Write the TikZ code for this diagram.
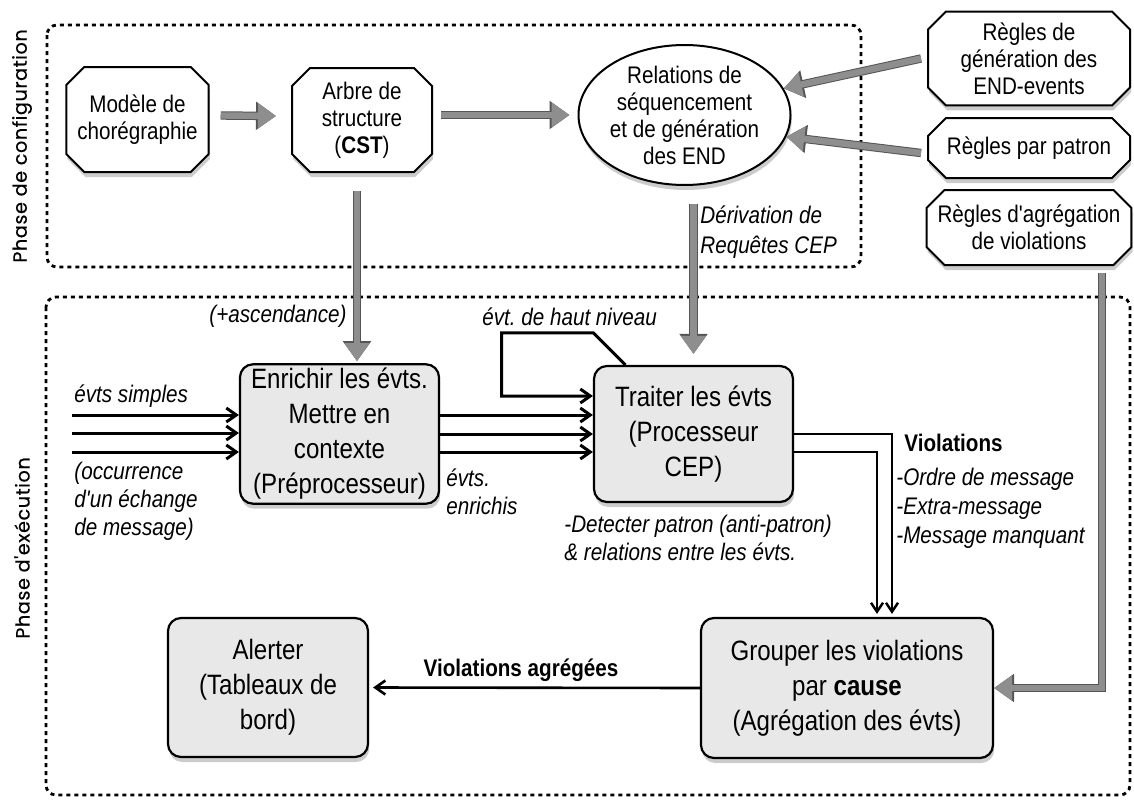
\documentclass[tikz,border=0pt]{standalone}
\usepackage{fontspec}
\setmainfont{Liberation Sans}[FakeStretch=0.86, Ligatures=TeXOff]
\newfontfamily\phasefont{Poppins}[FakeBold=0.4, LetterSpace=3, Ligatures=TeXOff]
\usepackage{tikz}
\usetikzlibrary{positioning,arrows.meta,shapes.geometric,shapes.misc,shadows}
\usepackage{xcolor}
\definecolor{boxgray}{HTML}{E8E8E8}
\definecolor{arrowfill}{HTML}{8E8E8E}
\definecolor{arrowedge}{HTML}{555555}

\begin{document}
\begin{tikzpicture}[x=0.5pt, y=-0.5pt, >={Straight Barb[length=5pt,width=7pt]},
    boxshadow/.style={drop shadow={shadow xshift=0.6pt, shadow yshift=-2.5pt, opacity=0.4}},
    confnode/.style={chamfered rectangle, chamfered rectangle xsep=4.5pt, chamfered rectangle ysep=4.5pt,
      draw, line width=1pt, fill=white, align=center, inner sep=1pt,
      font=\fontsize{12}{13.5}\selectfont, boxshadow},
    ellnode/.style={ellipse, draw, line width=1pt, fill=white, align=center, inner sep=0pt,
      font=\fontsize{12}{13.5}\selectfont, boxshadow},
    execnode/.style={rectangle, rounded corners=6.5pt, draw, line width=1.1pt, fill=boxgray,
      align=center, inner sep=2pt, font=\fontsize{14}{17.5}\selectfont, boxshadow},
    phasebox/.style={line width=1.4pt, dash pattern=on 2pt off 2pt, rounded corners=5pt},
    phase/.style={rotate=90, inner sep=0pt, font=\phasefont\fontsize{9.6}{10}\selectfont},
    lbl/.style={inner sep=0pt, align=left, font=\fontsize{12}{14}\selectfont\itshape},
    boldlbl/.style={inner sep=0pt, font=\fontsize{12}{14}\selectfont\bfseries},
    fatarrow/.style={draw=arrowfill, line width=3.2pt, -{Triangle[length=9pt,width=12pt]},
      preaction={draw=arrowedge, line width=4.2pt, -{Triangle[length=10pt,width=13.5pt]}}},
    evt/.style={->, line width=1.5pt},
    viol/.style={-{Straight Barb[length=4.5pt,width=6pt]}, line width=1.2pt},
  ]
  \useasboundingbox (0,0) rectangle (1134,803);

  % phases
  \draw[phasebox] (47,25) rectangle (861,267);
  \draw[phasebox] (46,297) rectangle (1130,795);
  \node[phase] (phconf) at (22,146) {Phase de configuration};
  \node[phase] (phexec) at (22,548) {Phase d'exécution};

  % configuration
  \node[confnode, minimum width=69.5pt, minimum height=52.5pt] (modele) at (137.5,119.5) {Modèle de\\chorégraphie};
  \node[confnode, minimum width=70pt, minimum height=52pt] (arbre) at (362,120) {Arbre de\\structure\\(\textbf{CST})};
  \node[ellnode, minimum width=106pt, minimum height=70pt] (rel) at (684.5,115) {Relations de\\séquencement\\et de génération\\des END};
  \node[confnode, minimum width=101pt, minimum height=43.5pt] (r1) at (1029,58.5) {Règles de\\génération des\\END-events};
  \node[confnode, minimum width=101pt, minimum height=30pt] (r2) at (1029,148) {Règles par patron};
  \node[confnode, minimum width=101pt, minimum height=37.5pt] (r3) at (1029,227.5) {Règles d'agrégation\\de violations};

  % execution
  \node[execnode, minimum width=99.5pt, minimum height=68pt] (enrichir) at (339.5,434) {Enrichir les évts.\\Mettre en\\contexte\\(Préprocesseur)};
  \node[execnode, minimum width=99.5pt, minimum height=68pt] (traiter) at (693.5,434) {Traiter les évts\\(Processeur\\CEP)};
  \node[execnode, minimum width=146pt, minimum height=70pt] (grouper) at (847,688) {Grouper les violations\\par \textbf{cause}\\(Agrégation des évts)};
  \node[execnode, minimum width=100pt, minimum height=69.5pt] (alerter) at (268,687.5) {Alerter\\(Tableaux de\\bord)};

  % gray arrows
  \draw[fatarrow] ([xshift=5.5pt,yshift=2pt]modele.east) -- ([xshift=-7.5pt,yshift=2pt]arbre.west);
  \draw[fatarrow] ([xshift=4pt,yshift=2.5pt]arbre.east) -- ([xshift=-4pt]rel.west);
  \draw[fatarrow] ([xshift=-3pt]r1.west) -- (rel.15);
  \draw[fatarrow] ([xshift=-3pt,yshift=-2.5pt]r2.west) -- (rel.-12);
  \draw[fatarrow] ([xshift=-2.5pt,yshift=-9pt]arbre.south) -- ([xshift=-2.5pt,yshift=1pt]arbre.south |- enrichir.north);
  \draw[fatarrow] ([yshift=-9pt]traiter.north |- rel.south) -- ([yshift=5.5pt]traiter.north);
  \draw[fatarrow] ([xshift=36.5pt,yshift=-3.5pt]r3.south) |- (grouper.east);

  % events
  \foreach \i/\y in {1/415,2/433,3/452} {
    \coordinate (src\i) at (72,\y);
    \draw[evt] (src\i) -- (src\i -| enrichir.west);
  }
  \foreach \s in {9.5pt,0pt,-9pt}
    \draw[evt] ([yshift=\s]enrichir.east) -- ([yshift=\s]traiter.west);
  \draw[evt] ([xshift=-34pt]traiter.north) -- ++(-32,-32) -- ++(-92,0) |- ([yshift=19pt]traiter.west);
  \draw[viol] (traiter.east) -| ([xshift=22.5pt,yshift=1.5pt]grouper.north);
  \draw[viol] ([yshift=-9pt]traiter.east) -| ([xshift=15pt,yshift=1.5pt]grouper.north);
  \draw[evt, line width=1.3pt] (grouper.west) -- ([xshift=2pt]alerter.east);

  % labels
  \node[lbl, anchor=west] (lsimple) at (74,396) {évts simples};
  \node[lbl, anchor=north west] (locc) at (74,462) {(occurrence\\d'un échange\\de message)};
  \node[lbl, anchor=north west] (lenr) at (446,468) {évts.\\enrichis};
  \node[lbl, anchor=west] (lhaut) at (482,317) {évt.\ de haut niveau};
  \node[lbl, anchor=east] (lasc) at (347,316) {(+ascendance)};
  \node[lbl, anchor=north west, font=\fontsize{12}{15}\selectfont\itshape] (lderiv) at (700,205) {Dérivation de\\Requêtes CEP};
  \node[boldlbl, anchor=west] (lviol) at (904,443) {Violations};
  \node[lbl, anchor=north west, font=\fontsize{12}{14.5}\selectfont\itshape] (lliste) at (896,468) {-Ordre de message\\-Extra-message\\-Message manquant};
  \node[lbl, anchor=north west] (ldetect) at (564,515) {-Detecter patron (anti-patron)\\\& relations entre les évts.};
  \node[boldlbl] (lagg) at (521,670) {Violations agrégées};
\end{tikzpicture}
\end{document}
